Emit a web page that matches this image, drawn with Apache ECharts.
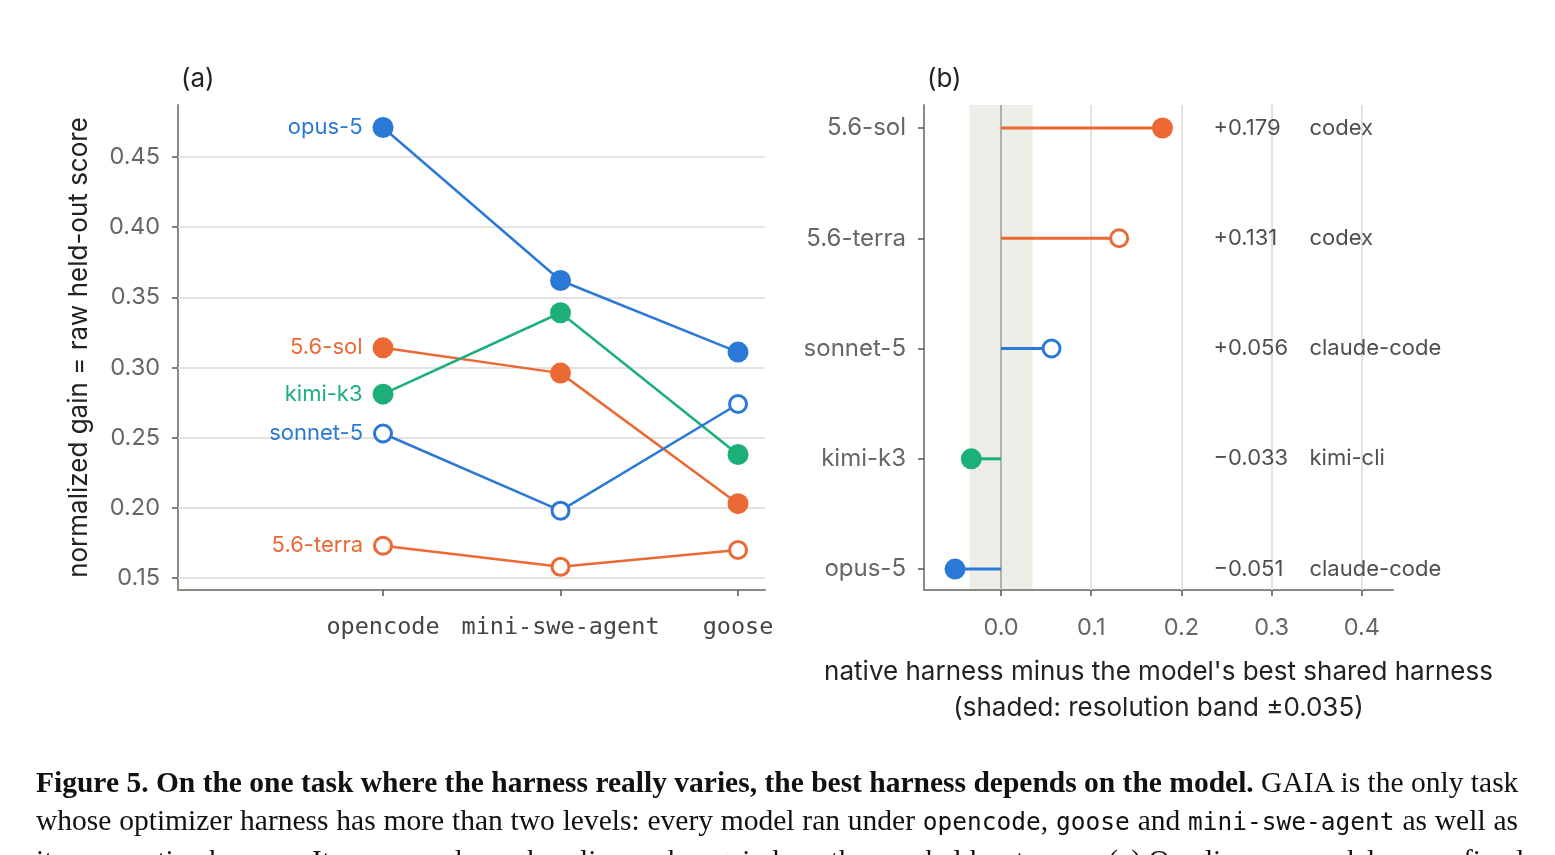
<!DOCTYPE html>
<html>
<head>
<meta charset="utf-8">
<script src="https://cdn.jsdelivr.net/npm/echarts@6/dist/echarts.min.js"></script>
<style>
  html, body { margin: 0; padding: 0; background: #fff; overflow: hidden; }
  #chart { position: absolute; left: 0; top: 0; width: 1555px; height: 855px; }
  #caption { position: absolute; left: 36px; top: 763px; width: 1482px;
    font-family: "Liberation Serif", serif; font-size: 29.5px; line-height: 38px; color: #111; }
  #caption div { text-align: justify; text-align-last: justify; white-space: nowrap; }
  #caption code { font-family: "DejaVu Sans Mono", monospace; font-size: 24.5px; }
</style>
</head>
<body>
<div id="chart"></div>
<div id="caption">
  <div><b>Figure 5. On the one task where the harness really varies, the best harness depends on the model.</b> GAIA is the only task</div>
  <div>whose optimizer harness has more than two levels: every model ran under <code>opencode</code>, <code>goose</code> and <code>mini-swe-agent</code> as well as</div>
  <div>its own native harness. Its measured zero baseline makes gain here the raw held-out score. (a) One line per model over a fixed</div>
</div>
<script>
// panel (a): score per shared harness
const harnesses = ['opencode', 'mini-swe-agent', 'goose'];
const scoreTicks = [0.15, 0.20, 0.25, 0.30, 0.35, 0.40, 0.45];
const opus5 = [0.471, 0.362, 0.311];
const sol56 = [0.314, 0.296, 0.203];
const kimiK3 = [0.281, 0.339, 0.238];
const sonnet5 = [0.253, 0.198, 0.274];
const terra56 = [0.173, 0.158, 0.170];

// panel (b): native minus best shared
const gapModels = ['5.6-sol', '5.6-terra', 'sonnet-5', 'kimi-k3', 'opus-5'];
const gapValues = [0.179, 0.131, 0.056, -0.033, -0.051];
const nativeHarness = ['codex', 'codex', 'claude-code', 'kimi-cli', 'claude-code'];
const gapTicks = [0.0, 0.1, 0.2, 0.3, 0.4];
const band = 0.035;

const BLUE = '#2b79d7';
const ORANGE = '#eb6935';
const GREEN = '#1caf78';
const AXIS = '#8c8983';
const GRID = '#e4e3dd';
const FONT = 'Inter';

const models = [
  { name: 'opus-5', data: opus5, color: BLUE, hollow: false },
  { name: '5.6-sol', data: sol56, color: ORANGE, hollow: false },
  { name: 'kimi-k3', data: kimiK3, color: GREEN, hollow: false },
  { name: 'sonnet-5', data: sonnet5, color: BLUE, hollow: true },
  { name: '5.6-terra', data: terra56, color: ORANGE, hollow: true }
];
const gapStyle = {
  '5.6-sol': { color: ORANGE, hollow: false },
  '5.6-terra': { color: ORANGE, hollow: true },
  'sonnet-5': { color: BLUE, hollow: true },
  'kimi-k3': { color: GREEN, hollow: false },
  'opus-5': { color: BLUE, hollow: false }
};

const markerStyle = (color, hollow) => hollow
  ? { color: '#fff', borderColor: color, borderWidth: 3 }
  : { color: color, borderWidth: 0 };

const fmtGap = v => (v >= 0 ? '+' : '\u2212') + Math.abs(v).toFixed(3);

const chart = echarts.init(document.getElementById('chart'), null, { renderer: 'canvas' });

const lineSeries = models.map(m => ({
  type: 'line',
  name: m.name,
  xAxisIndex: 0,
  yAxisIndex: 0,
  z: 3,
  clip: false,
  symbol: 'circle',
  symbolSize: m.hollow ? 17 : 21,
  lineStyle: { color: m.color, width: 2.5 },
  itemStyle: markerStyle(m.color, m.hollow),
  labelLayout: { hideOverlap: false },
  label: {
    show: false, position: 'left', distance: 10,
    color: m.color, fontFamily: FONT, fontSize: 22,
    formatter: () => m.name
  },
  data: m.data.map((v, i) => i === 0 ? { value: [i, v], label: { show: true } } : [i, v])
}));

const stickSeries = gapModels.map((name, i) => {
  const st = gapStyle[name];
  return {
    type: 'line',
    xAxisIndex: 1,
    yAxisIndex: 1,
    z: 3,
    clip: false,
    symbol: 'circle',
    symbolSize: st.hollow ? 17 : 21,
    lineStyle: { color: st.color, width: 3 },
    itemStyle: markerStyle(st.color, st.hollow),
    data: [{ value: [0, i], symbol: 'none' }, [gapValues[i], i]]
  };
});

const noteAt = 0.235;

const option = {
  animation: false,
  textStyle: { fontFamily: FONT },
  title: [
    { text: '(a)', left: 176, top: 61, textStyle: { fontFamily: FONT, fontWeight: 'normal', fontSize: 26, color: '#222' } },
    { text: '(b)', left: 922, top: 61, textStyle: { fontFamily: FONT, fontWeight: 'normal', fontSize: 26, color: '#222' } }
  ],
  grid: [
    { left: 178, top: 105, width: 587, height: 485 },
    { left: 924, top: 105, width: 469, height: 485 }
  ],
  xAxis: [
    {
      type: 'value', gridIndex: 0, min: -1.155, max: 2.152,
      axisLine: { show: true, onZero: false, lineStyle: { color: AXIS, width: 2 } },
      axisTick: { show: true, customValues: [0, 1, 2], length: 6, lineStyle: { color: '#555', width: 1.5 } },
      axisLabel: {
        customValues: [0, 1, 2], margin: 26,
        fontFamily: 'DejaVu Sans Mono', fontSize: 23.5, color: '#444',
        formatter: v => harnesses[Math.round(v)]
      },
      splitLine: { show: false }
    },
    {
      type: 'value', gridIndex: 1, min: -0.0854, max: 0.4346,
      axisLine: { show: true, onZero: false, lineStyle: { color: AXIS, width: 2 } },
      axisTick: { show: true, customValues: gapTicks, length: 6, lineStyle: { color: '#555', width: 1.5 } },
      axisLabel: {
        customValues: gapTicks, margin: 26,
        fontFamily: FONT, fontSize: 23.5, color: '#666',
        formatter: v => v.toFixed(1)
      },
      splitLine: { show: false },
      name: "native harness minus the model's best shared harness\n(shaded: resolution band \u00b10.035)",
      nameLocation: 'middle', nameGap: 64,
      nameTextStyle: { fontFamily: FONT, fontSize: 26, color: '#222', lineHeight: 36 }
    }
  ],
  yAxis: [
    {
      type: 'value', gridIndex: 0, min: 0.1415, max: 0.487,
      axisLine: { show: true, onZero: false, lineStyle: { color: AXIS, width: 2 } },
      axisTick: { show: true, customValues: scoreTicks, length: 6, lineStyle: { color: '#555', width: 1.5 } },
      axisLabel: {
        customValues: scoreTicks, margin: 18,
        fontFamily: FONT, fontSize: 23.5, color: '#666',
        formatter: v => v.toFixed(2)
      },
      splitLine: { show: false },
      name: 'normalized gain = raw held-out score',
      nameLocation: 'middle', nameGap: 86,
      nameTextStyle: { fontFamily: FONT, fontSize: 26, color: '#222' }
    },
    {
      type: 'value', gridIndex: 1, inverse: true, min: -0.209, max: 4.19,
      axisLine: { show: true, onZero: false, lineStyle: { color: AXIS, width: 2 } },
      axisTick: { show: true, customValues: [0, 1, 2, 3, 4], length: 6, lineStyle: { color: '#555', width: 1.5 } },
      axisLabel: {
        customValues: [0, 1, 2, 3, 4], margin: 18,
        fontFamily: FONT, fontSize: 24, color: '#666',
        formatter: v => gapModels[Math.round(v)]
      },
      splitLine: { show: false }
    }
  ],
  series: [
    // gridlines for (a)
    {
      type: 'line', xAxisIndex: 0, yAxisIndex: 0, data: [], z: 1, silent: true,
      markLine: {
        z: 1, silent: true, symbol: 'none', label: { show: false },
        lineStyle: { color: GRID, width: 2, type: 'solid' },
        data: scoreTicks.map(v => ({ yAxis: v }))
      }
    },
    // band + gridlines for (b)
    {
      type: 'line', xAxisIndex: 1, yAxisIndex: 1, data: [], z: 1, silent: true,
      markArea: {
        z: 0, silent: true,
        itemStyle: { color: '#eeeee9' },
        data: [[{ xAxis: -band }, { xAxis: band }]]
      },
      markLine: {
        z: 1, silent: true, symbol: 'none', label: { show: false },
        lineStyle: { color: GRID, width: 2, type: 'solid' },
        data: gapTicks.map(v => v === 0
          ? { xAxis: v, lineStyle: { color: '#b3b0a8', width: 2, type: 'solid' } }
          : { xAxis: v })
      }
    },
    ...lineSeries,
    ...stickSeries,
    // value + native harness notes for (b)
    {
      type: 'scatter', xAxisIndex: 1, yAxisIndex: 1, z: 4, silent: true,
      symbolSize: 1, itemStyle: { color: 'rgba(0,0,0,0)' },
      labelLayout: { hideOverlap: false },
      label: {
        show: true, position: 'right', distance: 0,
        formatter: p => '{a|' + fmtGap(gapValues[p.dataIndex]) + '}{b|' + nativeHarness[p.dataIndex] + '}',
        rich: {
          a: { width: 96, fontFamily: FONT, fontSize: 22, color: '#222' },
          b: { fontFamily: FONT, fontSize: 22, color: '#222' }
        }
      },
      data: gapModels.map((m, i) => [noteAt, i])
    }
  ]
};

chart.setOption(option);
</script>
</body>
</html>
